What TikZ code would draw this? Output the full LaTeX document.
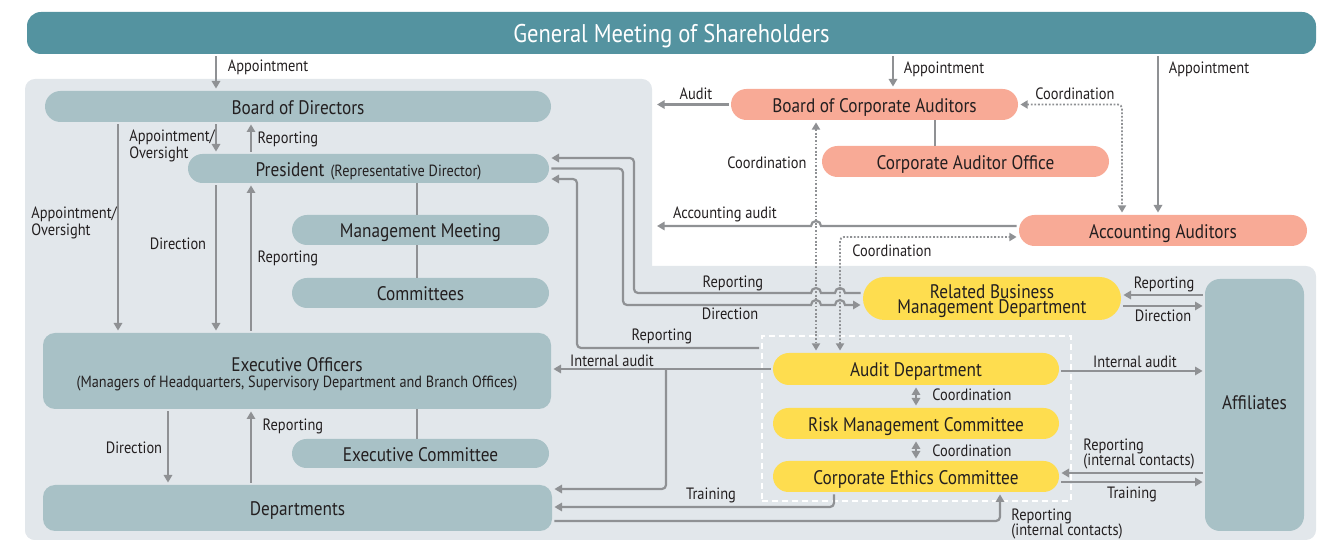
\documentclass[tikz,border=0pt]{standalone}
\usepackage{fontspec}
\setmainfont{PT Sans}[FakeStretch=0.88]
\usepackage{tikz}
\usetikzlibrary{arrows.meta, positioning, shapes.misc}
\usepackage{xcolor}

\definecolor{headteal}{HTML}{5493A0}
\definecolor{panelgray}{HTML}{E2E7EB}
\definecolor{unitblue}{HTML}{A8C1C6}
\definecolor{auditpink}{HTML}{F8AA96}
\definecolor{bizyellow}{HTML}{FEDD4F}
\definecolor{linegray}{HTML}{8F9194}
\definecolor{ink}{HTML}{231F20}

\newcommand\titlefont{\fontsize{12.8}{14}\selectfont}
\newcommand\unitfont{\fontsize{9.8}{8}\selectfont\lineskiplimit=-5pt}
\newcommand\smallunitfont{\fontsize{8.1}{8}\selectfont}
\newcommand\notefont{\fontsize{8.2}{7.1}\selectfont\lineskiplimit=-5pt}

\tikzset{
  unit/.style={rounded rectangle, fill=unitblue, text=ink, font=\unitfont, inner sep=0pt,
    align=center, text height=7.7pt, text depth=0pt},
  block/.style={rectangle, rounded corners=6pt, fill=unitblue, text=ink, font=\unitfont, inner sep=0pt,
    align=center, text height=7.7pt, text depth=0pt},
  auditor/.style={unit, fill=auditpink},
  biz/.style={unit, fill=bizyellow},
  grpbox/.style={draw=white, line width=1pt, dash pattern=on 3pt off 2pt},
  note/.style={font=\notefont, text=ink, inner sep=0pt, align=left},
  link/.style={draw=linegray, line width=1.1pt, -{Triangle[length=3.8pt,width=4.2pt]}, shorten >=1pt, shorten <=1pt},
  back/.style={link, {Triangle[length=3.8pt,width=4.2pt]}-},
  both/.style={link, {Triangle[length=3.8pt,width=4.2pt]}-{Triangle[length=3.8pt,width=4.2pt]}},
  tie/.style={draw=linegray, line width=1.1pt},
  coordline/.style={draw=linegray, line width=0.9pt, dash pattern=on 0.9pt off 0.9pt,
    {Triangle[length=3.6pt,width=4pt]}-{Triangle[length=3.6pt,width=4pt]}, shorten >=1pt, shorten <=1pt},
  % line jumps over the dotted lines
  hop/.style={insert path={arc[start angle=180, end angle=0, radius=2.5pt]}},
  hopback/.style={insert path={arc[start angle=0, end angle=180, radius=2.5pt]}},
}

\begin{document}
\begin{tikzpicture}[x=0.5pt, y=-0.5pt]
    \useasboundingbox (0,0) rectangle (1329,544);
    % Background panels
    \fill[panelgray, rounded corners=5pt] (25,79) rectangle (652,540);
    \fill[panelgray, rounded corners=5pt] (25,266) rectangle (1316,540);

    % Nodes
    \node[rectangle, rounded corners=7pt, fill=headteal, text=white, font=\titlefont,
          text height=10pt, text depth=0pt,
          minimum width=644.5pt, minimum height=21pt] (gms) at (671.5,33) {General Meeting of Shareholders};

    \node[unit, minimum width=253pt, minimum height=15.5pt] (bod) at (298,106.5) {Board of Directors};
    \node[unit, minimum width=180.5pt, minimum height=14.5pt] (pres) at (368.5,168.5)
        {President\hspace{3pt}{\smallunitfont(Representative Director)}};
    \node[unit, minimum width=128.5pt, minimum height=15pt] (mgmt) at (420.5,230) {Management Meeting};
    \node[unit, minimum width=128.5pt, minimum height=15pt] (cmte) at (420.5,293) {Committees};
    \node[block, text height=17pt, text depth=0pt, minimum width=254pt, minimum height=38pt] (exof) at (297,371)
        {Executive Officers\\[0.4pt]{\smallunitfont(Managers of Headquarters, Supervisory Department and Branch Offices)}};
    \node[unit, minimum width=128.5pt, minimum height=14.5pt] (excm) at (420.5,453.5) {Executive Committee};
    \node[block, minimum width=254.5pt, minimum height=23pt] (dept) at (297.5,508) {Departments};

    \node[auditor, minimum width=143.5pt, minimum height=15.5pt] (bca) at (874.5,104.5) {Board of Corporate Auditors};
    \node[auditor, minimum width=143.5pt, minimum height=15.5pt] (cao) at (965.5,161.5) {Corporate Auditor Office};
    \node[auditor, minimum width=144pt, minimum height=15.5pt] (acc) at (1163,230.5) {Accounting Auditors};

    \node[biz, text height=15.5pt, text depth=0pt, minimum width=129pt, minimum height=21.5pt] (rbmd) at (992,298.5)
        {Related Business\\[-0.5pt]Management Department};
    \node[grpbox, minimum width=154.5pt, minimum height=82.5pt] (grp) at (916.5,418.5) {};
    \node[biz, minimum width=143pt, minimum height=16pt] (auddep) at (916,369) {Audit Department};
    \node[biz, minimum width=143pt, minimum height=15.5pt] (riskc) at (916,423.5) {Risk Management Committee};
    \node[biz, minimum width=143pt, minimum height=15.5pt] (ethc) at (916,476.5) {Corporate Ethics Committee};
    \node[block, rounded corners=7.5pt, text height=5pt, minimum width=49.5pt, minimum height=126pt] (affil)
        at (1254.5,405) {Affiliates};

    % Free ends at the edge of the board panel
    \coordinate (audit-in) at (655,104.5);
    \coordinate (acct-in) at (655,226);
    \coordinate (ia-split) at (666,369);

    % Appointment from the general meeting
    \draw[link] (gms.south -| 216,0) -- (bod.north -| 216,0);
    \draw[link] (gms.south -| 893,0) -- (bca.north -| 893,0);
    \draw[link] (gms.south -| 1158,0) -- (acc.north -| 1158,0);

    % Board, president and executives
    \draw[link] (bod.south -| 118,0) -- (exof.north -| 118,0);
    \draw[link] (bod.south -| 216,0) -- (pres.north -| 216,0);
    \draw[link] (pres.north -| 251,0) -- (bod.south -| 251,0);
    \draw[link] (pres.south -| 216,0) -- (exof.north -| 216,0);
    \draw[link] (exof.north -| 251,0) -- (pres.south -| 251,0);
    \draw[tie] (pres.south -| 417,0) -- (mgmt.north -| 417,0);
    \draw[tie] (mgmt.south -| 417,0) -- (cmte.north -| 417,0);
    \draw[tie] (exof.south -| 417,0) -- (excm.north -| 417,0);
    \draw[link] (exof.south -| 168,0) -- (dept.north -| 168,0);
    \draw[link] (dept.north -| 251,0) -- (exof.south -| 251,0);

    % Auditors
    \draw[link] (bca.west) -- (audit-in);
    \draw[tie] (bca.south -| 935,0) -- (cao.north -| 935,0);
    \draw[coordline] (bca.east) -- (1118,104.5) arc[start angle=90, end angle=0, radius=2pt]
        -- (acc.north -| 1122,0);
    \draw[coordline] (bca.south -| 816,0) -- (auddep.north -| 816,0);
    \draw[coordline] (auddep.north -| 840,0) -- (840,241) arc[start angle=180, end angle=90, radius=2pt]
        -- (acc.west |- 0,237);
    \draw[link] (acc.west |- 0,226) -- (821,226) [hopback] -- (acct-in);

    % President and related business / audit group
    \draw[back] (pres.east |- 0,158) -- (630,158) arc[start angle=90, end angle=0, radius=2pt]
        -- (634,289) arc[start angle=180, end angle=270, radius=2pt]
        -- (811,293) [hop] -- (835,293) [hop] -- (rbmd.west |- 0,293);
    \draw[link] (pres.east) -- (619,168.5) arc[start angle=90, end angle=0, radius=2pt]
        -- (623,301) arc[start angle=180, end angle=270, radius=2pt]
        -- (811,305) [hop] -- (835,305) [hop] -- (rbmd.west |- 0,305);
    \draw[back] (pres.east |- 0,179) -- (573,179) arc[start angle=90, end angle=0, radius=2pt]
        -- (577,344) arc[start angle=180, end angle=270, radius=2pt] -- (grp.west |- 0,348);

    % Internal audit and training
    \draw[link] (auddep.west) -- (exof.east |- 0,369);
    \draw[link, shorten <=0pt] (ia-split) -- (666,485) arc[start angle=0, end angle=-90, radius=2pt]
        -- (dept.east |- 0,489);
    \draw[link] (ethc.south -| 834,0) -- (834,503) arc[start angle=0, end angle=-90, radius=2pt]
        -- (dept.east |- 0,507);
    \draw[link] (dept.east |- 0,521) -- (996,521) arc[start angle=-90, end angle=0, radius=2pt]
        -- (ethc.south -| 1000,0);
    \draw[both] (auddep.south) -- (riskc.north);
    \draw[both] (riskc.south) -- (ethc.north);

    % Affiliates
    \draw[link] (affil.west |- 0,295) -- (rbmd.east |- 0,295);
    \draw[link] (rbmd.east |- 0,306) -- (affil.west |- 0,306);
    \draw[link] (auddep.east |- 0,371) -- (affil.west |- 0,371);
    \draw[link] (affil.west |- 0,473) -- (ethc.east |- 0,473);
    \draw[link] (ethc.east |- 0,482) -- (affil.west |- 0,482);

    % Labels
    \foreach \x/\y [count=\i] in {268/67, 944/69, 1209/69}
        \node[note] (appt-\i) at (\x,\y) {Appointment};
    \foreach \x/\y [count=\i] in {1075/94, 767/163, 892/251}
        \node[note] (coord-\i) at (\x,\y) {Coordination};
    \foreach \y [count=\i] in {395, 451}
        \node[note, anchor=west] (coordg-\i) at (932,\y) {Coordination};
    \node[note] (audit-l) at (696,94) {Audit};
    \node[note] (acct-l) at (725,214) {Accounting audit};
    \node[note, anchor=west] (over-1) at (129,146) {Appointment/\\[1pt]Oversight};
    \node[note, anchor=west] (over-2) at (31,223) {Appointment/\\[1pt]Oversight};
    \node[note] (rep-1) at (288,139) {Reporting};
    \node[note] (dir-1) at (178,244) {Direction};
    \node[note] (rep-2) at (288,258) {Reporting};
    \node[note] (rep-3) at (733,283) {Reporting};
    \node[note] (dir-2) at (730,314) {Direction};
    \node[note] (rep-4) at (662,336) {Reporting};
    \node[note] (ia-1) at (612,361) {Internal audit};
    \node[note] (dir-3) at (134,448) {Direction};
    \node[note] (rep-5) at (293,426) {Reporting};
    \node[note] (train-1) at (711,495) {Training};
    \node[note, anchor=west] (ic-1) at (1011,524) {Reporting\\(internal contacts)};
    \node[note] (rep-6) at (1164,284) {Reporting};
    \node[note] (dir-4) at (1163,316) {Direction};
    \node[note] (ia-2) at (1135,362) {Internal audit};
    \node[note, anchor=west] (ic-2) at (1083,454) {Reporting\\(internal contacts)};
    \node[note] (train-2) at (1132,494) {Training};
\end{tikzpicture}
\end{document}
